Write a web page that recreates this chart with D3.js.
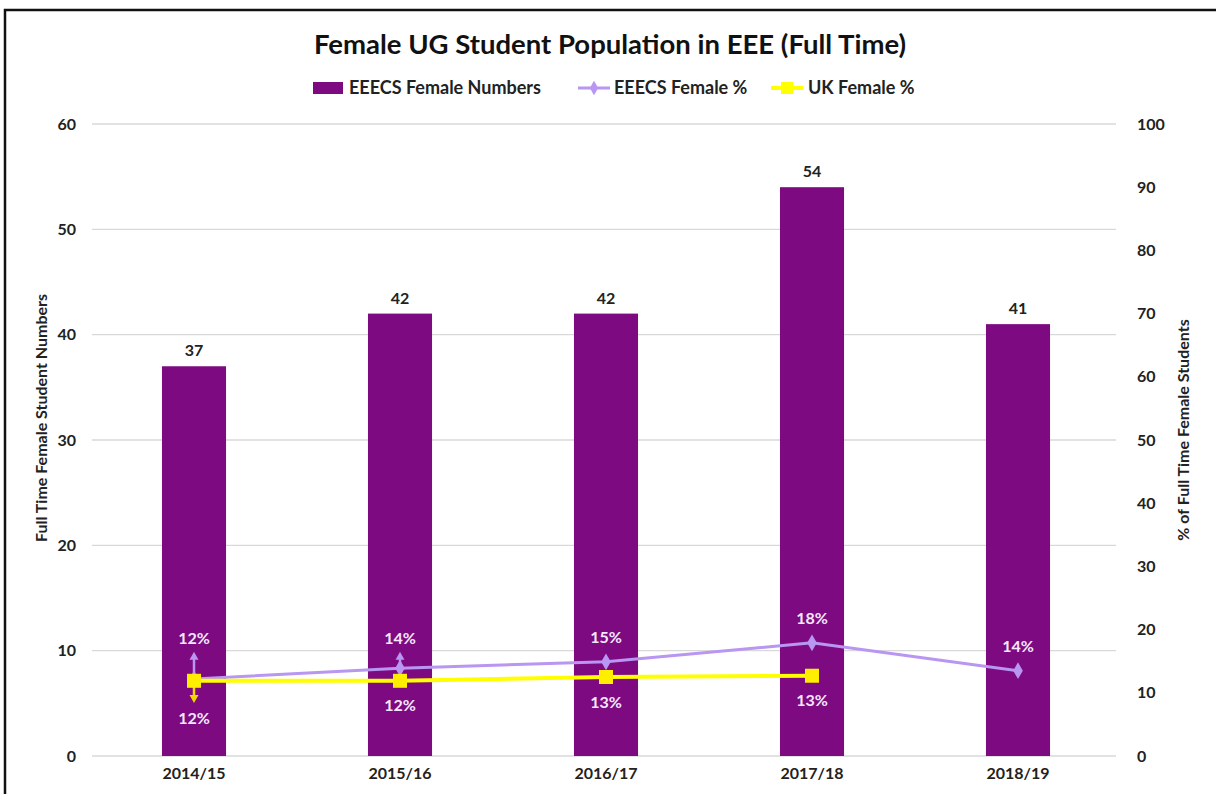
<!DOCTYPE html>
<html><head><meta charset="utf-8">
<script src="https://cdn.jsdelivr.net/npm/d3@7"></script>
<style>body{margin:0;background:#fff}svg{display:block}text{font-family:Lato,"Open Sans",sans-serif}</style>
</head><body>
<script>
const categories = ["2014/15","2015/16","2016/17","2017/18","2018/19"];
const femaleNumbers = [37, 42, 42, 54, 41];
const eeecsPct = [12.2, 13.9, 14.9, 17.9, 13.5];
const eeecsPctLabels = ["12%","14%","15%","18%","14%"];
const ukPct = [11.9, 11.9, 12.5, 12.7, null];
const ukPctLabels = ["12%","12%","13%","13%", null];
const eeecsErrUp = [16.5, 16.5, null, null, null];
const ukErrDown = [8.4, null, null, null, null];
const leftTicks = [0,10,20,30,40,50,60];
const rightTicks = [0,10,20,30,40,50,60,70,80,90,100];
const title = "Female UG Student Population in EEE (Full Time)";
const legendLabels = ["EEECS Female Numbers","EEECS Female %","UK Female %"];
const leftTitle = "Full Time Female Student Numbers";
const rightTitle = "% of Full Time Female Students";

const W = 1216, H = 794;
const svg = d3.select("body").append("svg").attr("width", W).attr("height", H);
svg.append("rect").attr("width", W).attr("height", H).attr("fill", "#fff");
svg.append("rect").attr("x",5).attr("y",10).attr("width",1240).attr("height",820)
  .attr("fill","none").attr("stroke","#111").attr("stroke-width",2.5);

const x = d3.scaleBand().domain(categories).range([91,1121]).paddingInner(0.689).paddingOuter(0.3445);
const yL = d3.scaleLinear().domain([0,60]).range([756,124]);
const yR = d3.scaleLinear().domain([0,100]).range([756,124]);
const cx = c => x(c) + x.bandwidth()/2;

const purple = "#7d0a80", lav = "#b896f2", yel = "#ffff00";
const fs = 16;

// gridlines
svg.append("g").selectAll("line").data(leftTicks).join("line")
  .attr("x1",92).attr("x2",1116).attr("y1",d=>yL(d)).attr("y2",d=>yL(d))
  .attr("stroke","#d9d9d9").attr("stroke-width",1.3);

function styleAxis(g){
  g.select(".domain").remove();
  g.selectAll("text").attr("font-size",fs).attr("font-weight","bold").attr("fill","#222").attr("font-family","Lato");
}
const gl = svg.append("g").attr("transform","translate(76,0)")
  .call(d3.axisLeft(yL).tickValues(leftTicks).tickSize(0).tickPadding(0));
styleAxis(gl);
const gr = svg.append("g").attr("transform","translate(1137,0)")
  .call(d3.axisRight(yR).tickValues(rightTicks).tickSize(0).tickPadding(0));
styleAxis(gr);
const gx = svg.append("g").attr("transform","translate(0,768)")
  .call(d3.axisBottom(x).tickSize(0).tickPadding(0));
styleAxis(gx);

// bars
svg.append("g").selectAll("rect").data(femaleNumbers).join("rect")
  .attr("x",(d,i)=>x(categories[i])).attr("width",x.bandwidth())
  .attr("y",d=>yL(d)).attr("height",d=>yL(0)-yL(d)).attr("fill",purple);
svg.append("g").selectAll("text").data(femaleNumbers).join("text")
  .attr("x",(d,i)=>cx(categories[i])).attr("y",d=>yL(d)-10)
  .attr("text-anchor","middle").attr("font-size",fs).attr("font-weight","bold").attr("fill","#222")
  .text(d=>d);

// error arrows
function arrow(g, xp, y0, y1, color){
  const dir = y1 < y0 ? -1 : 1;
  g.append("line").attr("x1",xp).attr("x2",xp).attr("y1",y0).attr("y2",y1 - dir*6)
    .attr("stroke",color).attr("stroke-width",2.5);
  g.append("path").attr("d",`M${xp},${y1}L${xp-4.5},${y1-dir*8}L${xp+4.5},${y1-dir*8}Z`).attr("fill",color);
}
const ge = svg.append("g");
eeecsErrUp.forEach((e,i)=>{ if(e!=null) arrow(ge, cx(categories[i]), yR(eeecsPct[i]), yR(e), lav); });
ukErrDown.forEach((e,i)=>{ if(e!=null) arrow(ge, cx(categories[i]), yR(ukPct[i]), yR(e), "#f2d600"); });

// EEECS line
const lineE = d3.line().x((d,i)=>cx(categories[i])).y(d=>yR(d));
svg.append("path").datum(eeecsPct).attr("d",lineE).attr("fill","none").attr("stroke",lav).attr("stroke-width",3);
svg.append("g").selectAll("path").data(eeecsPct).join("path")
  .attr("transform",(d,i)=>`translate(${cx(categories[i])},${yR(d)})`)
  .attr("d",d3.symbol(d3.symbolDiamond,80)).attr("fill",lav);

// UK line
const ukDef = ukPct.map((d,i)=>({d,i})).filter(o=>o.d!=null);
const lineU = d3.line().x(o=>cx(categories[o.i])).y(o=>yR(o.d));
svg.append("path").datum(ukDef).attr("d",lineU).attr("fill","none").attr("stroke",yel).attr("stroke-width",4);
svg.append("g").selectAll("rect").data(ukDef).join("rect")
  .attr("x",o=>cx(categories[o.i])-7).attr("y",o=>yR(o.d)-7).attr("width",14).attr("height",14)
  .attr("fill","#ffee00");

// percent labels
svg.append("g").selectAll("text").data(eeecsPct).join("text")
  .attr("x",(d,i)=>cx(categories[i]))
  .attr("y",(d,i)=>{ const p=yR(d); const e=eeecsErrUp[i]!=null?yR(eeecsErrUp[i]):Infinity; return Math.min(p-24,e-13)+5.5; })
  .attr("text-anchor","middle").attr("font-size",fs).attr("font-weight","bold").attr("fill","#f3e8ff")
  .text((d,i)=>eeecsPctLabels[i]);
svg.append("g").selectAll("text").data(ukDef).join("text")
  .attr("x",o=>cx(categories[o.i]))
  .attr("y",o=>{ const p=yR(o.d); const e=ukErrDown[o.i]!=null?yR(ukErrDown[o.i]):-Infinity; return Math.max(p+25,e+16)+5.5; })
  .attr("text-anchor","middle").attr("font-size",fs).attr("font-weight","bold").attr("fill","#f3e8ff")
  .text(o=>ukPctLabels[o.i]);

// title
svg.append("text").attr("x",610).attr("y",54).attr("text-anchor","middle")
  .attr("font-size",27.5).attr("font-weight","bold").attr("fill","#111").text(title);

// legend
const lg = svg.append("g").attr("transform","translate(0,88)");
lg.append("rect").attr("x",313).attr("y",-6).attr("width",30).attr("height",12).attr("fill",purple);
lg.append("text").attr("x",349).attr("y",6).attr("font-size",18).attr("font-weight","bold").attr("fill","#222").text(legendLabels[0]);
lg.append("line").attr("x1",578).attr("x2",610).attr("y1",0).attr("y2",0).attr("stroke",lav).attr("stroke-width",3);
lg.append("path").attr("transform","translate(594,0)").attr("d",d3.symbol(d3.symbolDiamond,60)).attr("fill",lav);
lg.append("text").attr("x",614).attr("y",6).attr("font-size",18).attr("font-weight","bold").attr("fill","#222").text(legendLabels[1]);
lg.append("line").attr("x1",771).attr("x2",803).attr("y1",0).attr("y2",0).attr("stroke",yel).attr("stroke-width",4);
lg.append("rect").attr("x",781).attr("y",-6).attr("width",12).attr("height",12).attr("fill",yel);
lg.append("text").attr("x",808).attr("y",6).attr("font-size",18).attr("font-weight","bold").attr("fill","#222").text(legendLabels[2]);

// axis titles
svg.append("text").attr("transform","translate(47,418) rotate(-90)").attr("text-anchor","middle")
  .attr("font-size",fs).attr("font-weight","bold").attr("fill","#222").text(leftTitle);
svg.append("text").attr("transform","translate(1189,430) rotate(-90)").attr("text-anchor","middle")
  .attr("font-size",fs).attr("font-weight","bold").attr("fill","#222").text(rightTitle);
</script>
</body></html>
